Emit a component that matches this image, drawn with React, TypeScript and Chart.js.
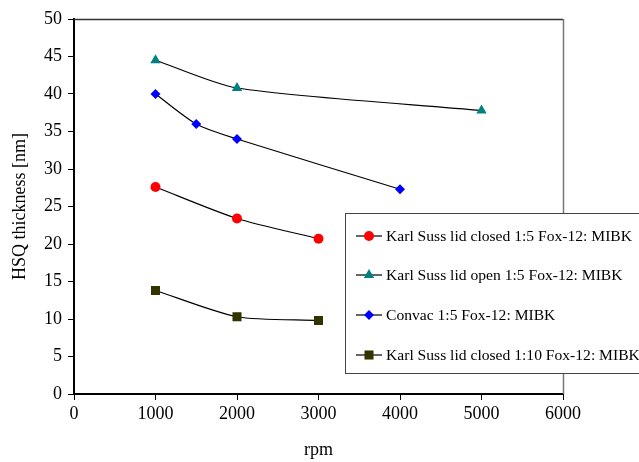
import React, { useEffect, useRef } from "react";
import { Chart, registerables } from "chart.js";

Chart.register(...registerables);

const xTicks = [0, 1000, 2000, 3000, 4000, 5000, 6000];
const yTicks = [0, 5, 10, 15, 20, 25, 30, 35, 40, 45, 50];

const closed15Rpm = [1000, 2000, 3000];
const closed15Thk = [27.6, 23.4, 20.7];

const open15Rpm = [1000, 2000, 5000];
const open15Thk = [44.5, 40.8, 37.8];

const convacRpm = [1000, 1500, 2000, 4000];
const convacThk = [40.0, 36.0, 34.0, 27.3];

const closed110Rpm = [1000, 2000, 3000];
const closed110Thk = [13.8, 10.3, 9.8];

const seriesLabels = [
  "Karl Suss lid closed 1:5 Fox-12: MIBK",
  "Karl Suss lid open 1:5 Fox-12: MIBK",
  "Convac 1:5 Fox-12: MIBK",
  "Karl Suss lid closed 1:10 Fox-12: MIBK",
];

const FONT = "'Liberation Serif', 'Times New Roman', serif";

const pts = (xs: number[], ys: number[]) => xs.map((x, i) => ({ x, y: ys[i] }));

function drawMarker(ctx: CanvasRenderingContext2D, style: string, r: number, x: number, y: number, color: string) {
  ctx.fillStyle = color;
  ctx.beginPath();
  if (style === "circle") {
    ctx.arc(x, y, r, 0, Math.PI * 2);
  } else if (style === "triangle") {
    ctx.moveTo(x, y - r);
    ctx.lineTo(x + r * Math.sin((2 * Math.PI) / 3), y - r * Math.cos((2 * Math.PI) / 3));
    ctx.lineTo(x + r * Math.sin((4 * Math.PI) / 3), y - r * Math.cos((4 * Math.PI) / 3));
    ctx.closePath();
  } else if (style === "rectRot") {
    ctx.moveTo(x - r, y);
    ctx.lineTo(x, y - r);
    ctx.lineTo(x + r, y);
    ctx.lineTo(x, y + r);
    ctx.closePath();
  } else {
    const s = r * Math.SQRT1_2;
    ctx.rect(x - s, y - s, 2 * s, 2 * s);
  }
  ctx.fill();
}

const frameAndLegend = {
  id: "frameAndLegend",
  afterDatasetsDraw(chart: any) {
    const { ctx, chartArea } = chart;
    const { left, top, right, bottom } = chartArea;
    ctx.save();
    ctx.strokeStyle = "#333";
    ctx.lineWidth = 1.5;
    ctx.beginPath();
    ctx.moveTo(left, top + 0.5);
    ctx.lineTo(right, top + 0.5);
    ctx.stroke();
    ctx.strokeStyle = "#777";
    ctx.lineWidth = 1.5;
    ctx.beginPath();
    ctx.moveTo(right + 0.5, top);
    ctx.lineTo(right + 0.5, bottom);
    ctx.stroke();

    const bx = 345.5, by = 213.5, bw = 300, bh = 160;
    ctx.fillStyle = "#fff";
    ctx.fillRect(bx, by, bw, bh);
    ctx.strokeStyle = "#444";
    ctx.lineWidth = 1;
    ctx.strokeRect(bx, by, bw, bh);

    const rows = [236, 275, 315, 355];
    chart.data.datasets.forEach((ds: any, i: number) => {
      const y = rows[i];
      ctx.strokeStyle = "#000";
      ctx.lineWidth = 1.2;
      ctx.beginPath();
      ctx.moveTo(356, y);
      ctx.lineTo(382, y);
      ctx.stroke();
      drawMarker(ctx, ds.pointStyle, ds.pointRadius, 369, y, ds.pointBackgroundColor);
      ctx.fillStyle = "#000";
      ctx.font = `15.6px ${FONT}`;
      ctx.textBaseline = "middle";
      ctx.textAlign = "left";
      ctx.fillText(ds.label, 386, y + 1);
    });
    ctx.restore();
  },
};

export default function App() {
  const ref = useRef<HTMLCanvasElement>(null);
  useEffect(() => {
    if (!ref.current) return;
    const common = {
      borderColor: "#000",
      borderWidth: 1.2,
      tension: 0.25,
      showLine: true,
      pointBorderWidth: 0,
      pointHoverRadius: 5,
    };
    const chart = new Chart(ref.current, {
      type: "scatter",
      data: {
        datasets: [
          {
            ...common,
            label: seriesLabels[0],
            data: pts(closed15Rpm, closed15Thk),
            pointStyle: "circle",
            pointRadius: 5,
            pointBackgroundColor: "#ff0000",
            pointBorderColor: "#ff0000",
          },
          {
            ...common,
            label: seriesLabels[1],
            data: pts(open15Rpm, open15Thk),
            pointStyle: "triangle",
            pointRadius: 6,
            pointBackgroundColor: "#008080",
            pointBorderColor: "#008080",
          },
          {
            ...common,
            label: seriesLabels[2],
            data: pts(convacRpm, convacThk),
            pointStyle: "rectRot",
            pointRadius: 5,
            pointBackgroundColor: "#0000ff",
            pointBorderColor: "#0000ff",
          },
          {
            ...common,
            label: seriesLabels[3],
            data: pts(closed110Rpm, closed110Thk),
            pointStyle: "rect",
            pointRadius: 6.4,
            pointBackgroundColor: "#333300",
            pointBorderColor: "#333300",
          },
        ] as any,
      },
      options: {
        animation: false,
        responsive: false,
        layout: { padding: { top: 19, right: 76, left: 0, bottom: 0 } },
        plugins: { legend: { display: false }, tooltip: { enabled: false } },
        scales: {
          x: {
            type: "linear",
            min: 0,
            max: 6000,
            afterBuildTicks: (s: any) => {
              s.ticks = xTicks.map((v) => ({ value: v }));
            },
            afterFit: (s: any) => {
              s.height = 68;
            },
            ticks: {
              color: "#000",
              font: { family: FONT, size: 18 },
              padding: 3,
              maxRotation: 0,
              autoSkip: false,
              callback: (v: any) => String(v),
            },
            grid: { drawOnChartArea: false, drawTicks: true, tickLength: 6, color: "#000", lineWidth: 1 },
            border: { color: "#000", width: 2 },
            title: {
              display: true,
              text: "rpm",
              color: "#000",
              font: { family: FONT, size: 18 },
              padding: { top: 0, bottom: 1 },
            },
          },
          y: {
            type: "linear",
            min: 0,
            max: 50,
            afterBuildTicks: (s: any) => {
              s.ticks = yTicks.map((v) => ({ value: v }));
            },
            afterFit: (s: any) => {
              s.width = 74;
            },
            ticks: {
              color: "#000",
              font: { family: FONT, size: 18 },
              padding: 6,
              autoSkip: false,
              callback: (v: any) => String(v),
            },
            grid: { drawOnChartArea: false, drawTicks: true, tickLength: 6, color: "#000", lineWidth: 1 },
            border: { color: "#000", width: 2 },
            title: {
              display: true,
              text: "HSQ thickness [nm]",
              color: "#000",
              font: { family: FONT, size: 18 },
              padding: { top: 9, bottom: 0 },
            },
          },
        },
      },
      plugins: [frameAndLegend],
    });
    return () => chart.destroy();
  }, []);
  return (
    <div style={{ position: "fixed", left: 0, top: 0, width: 639, height: 462, background: "#fff" }}>
      <canvas ref={ref} width={639} height={462} style={{ display: "block" }} />
    </div>
  );
}
